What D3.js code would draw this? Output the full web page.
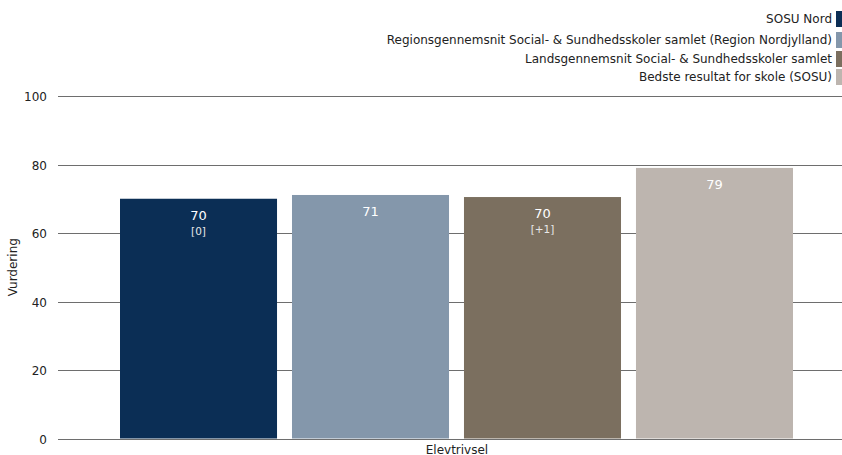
<!DOCTYPE html>
<html><head><meta charset="utf-8">
<script src="https://cdn.jsdelivr.net/npm/d3@7"></script>
<style>body{margin:0;background:#fff;}svg{display:block;font-family:"DejaVu Sans",Verdana,sans-serif;}</style>
</head><body>
<svg id="c" width="842" height="455"></svg>
<script>
const categories = ["Elevtrivsel"];
const seriesNames = ["SOSU Nord","Regionsgennemsnit Social- & Sundhedsskoler samlet (Region Nordjylland)","Landsgennemsnit Social- & Sundhedsskoler samlet","Bedste resultat for skole (SOSU)"];
const seriesValues = [70, 71.1, 70.5, 79];
const seriesLabels = ["70","71","70","79"];
const seriesSubLabels = ["[0]", "", "[+1]", ""];
const seriesColors = ["#0b2e55","#8497ab","#7b6f5f","#bdb5af"];
const yTicks = [0,20,40,60,80,100];

const svg = d3.select("#c");
const m = {left:58, right:0, top:96, bottom:16.5};
const W = 842, H = 455;
const y = d3.scaleLinear().domain([0,100]).range([H-m.bottom, m.top]);
const x0 = d3.scaleBand().domain(categories).range([m.left, W]).paddingInner(0).paddingOuter(0);
const x1 = d3.scaleBand().domain(seriesNames).range([62, 735]).paddingInner(0.087).paddingOuter(0);

// grid
const grid = svg.append("g");
grid.selectAll("line").data(yTicks).join("line")
  .attr("x1", m.left).attr("x2", W)
  .attr("y1", d=>Math.round(y(d))+0.5).attr("y2", d=>Math.round(y(d))+0.5)
  .attr("stroke","#6e6e6e").attr("stroke-width",1);
grid.selectAll("text").data(yTicks).join("text")
  .attr("x", 47).attr("y", d=>Math.round(y(d))+0.5).attr("dy","0.35em")
  .attr("text-anchor","end").attr("font-size",12).attr("fill","#222").text(d=>d);

svg.append("text").attr("transform",`translate(17,${(y(0)+y(100))/2}) rotate(-90)`)
  .attr("text-anchor","middle").attr("font-size",12).attr("fill","#222").text("Vurdering");

// bars
categories.forEach(cat=>{
  const g = svg.append("g").attr("transform",`translate(${x0(cat)},0)`);
  const data = seriesNames.map((s,i)=>({s,i,v:seriesValues[i]}));
  g.selectAll("rect").data(data).join("rect")
    .attr("x", d=>x1(d.s)).attr("width", x1.bandwidth())
    .attr("y", d=>y(d.v)).attr("height", d=>y(0)-y(d.v))
    .attr("fill", d=>seriesColors[d.i]);
  g.selectAll("text.v").data(data).join("text").attr("class","v")
    .attr("x", d=>x1(d.s)+x1.bandwidth()/2).attr("y", d=>y(d.v)+21)
    .attr("text-anchor","middle").attr("font-size",13).attr("fill","#fff").text(d=>seriesLabels[d.i]);
  g.selectAll("text.s").data(data).join("text").attr("class","s")
    .attr("x", d=>x1(d.s)+x1.bandwidth()/2).attr("y", d=>y(d.v)+36)
    .attr("text-anchor","middle").attr("font-size",10.5).attr("fill","#e8e8e8").text(d=>seriesSubLabels[d.i]);
  svg.append("text").attr("x", x0(cat)+x1(seriesNames[1])+x1.step()+ -7).attr("y", 453.5)
    .attr("text-anchor","middle").attr("font-size",12).attr("fill","#222").text(cat);
});

// legend
const lg = svg.append("g");
const ly = [19, 40, 59, 77];
seriesNames.forEach((s,i)=>{
  lg.append("rect").attr("x",836).attr("y",ly[i]-8).attr("width",6).attr("height",16).attr("fill",seriesColors[i]);
  lg.append("text").attr("x",832).attr("y",ly[i]).attr("dy","0.35em").attr("text-anchor","end")
    .attr("font-size",12).attr("fill","#222").text(s);
});
</script>
</body></html>
